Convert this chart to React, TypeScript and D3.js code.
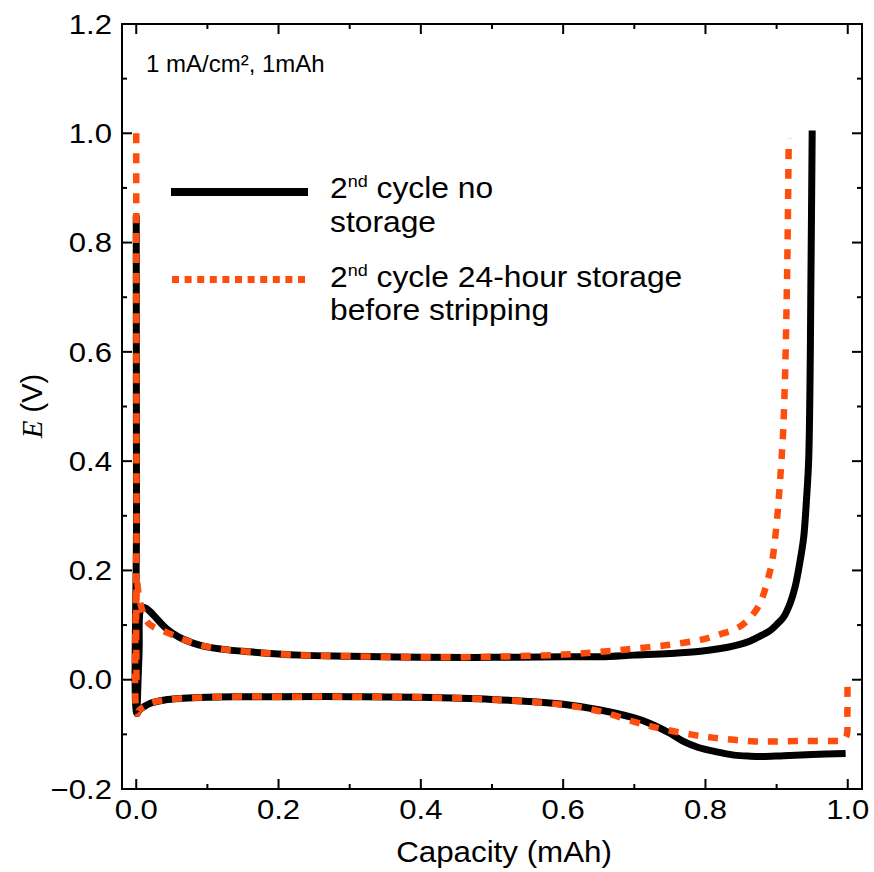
import React from "react";
import * as d3 from "d3";

// Capacity (mAh) and potential E (V) for each branch
const noStorageDepCap = [0, 0.0004, 0.0012, 0.004, 0.01, 0.02, 0.04, 0.066, 0.1, 0.136, 0.2, 0.3, 0.4, 0.5, 0.6, 0.652, 0.7, 0.722, 0.75, 0.769, 0.79, 0.816, 0.84, 0.863, 0.88, 0.91, 0.95, 0.997];
const noStorageDepE = [0.85, 0.3, -0.062, -0.056, -0.05, -0.043, -0.037, -0.034, -0.032, -0.031, -0.031, -0.031, -0.032, -0.036, -0.045, -0.0555, -0.07, -0.08, -0.098, -0.113, -0.124, -0.132, -0.138, -0.14, -0.1405, -0.139, -0.137, -0.135];

const noStorageStripCap = [0.0012, 0.004, 0.007, 0.012, 0.02, 0.03, 0.042, 0.06, 0.089, 0.12, 0.159, 0.23, 0.3, 0.4, 0.5, 0.6, 0.652, 0.7, 0.75, 0.793, 0.821, 0.84, 0.863, 0.88, 0.891, 0.901, 0.91, 0.919, 0.926, 0.932, 0.938, 0.942, 0.945, 0.947, 0.948, 0.949, 0.95];
const noStorageStripE = [-0.055, 0.05, 0.13, 0.132, 0.124, 0.11, 0.094, 0.078, 0.0635, 0.056, 0.051, 0.045, 0.043, 0.041, 0.041, 0.042, 0.042, 0.045, 0.048, 0.052, 0.057, 0.062, 0.071, 0.082, 0.09, 0.102, 0.115, 0.14, 0.17, 0.21, 0.26, 0.33, 0.4, 0.55, 0.7, 0.85, 1.005];

const storageDepCap = [0, 0.0004, 0.0012, 0.004, 0.01, 0.02, 0.04, 0.066, 0.1, 0.136, 0.2, 0.3, 0.4, 0.5, 0.6, 0.652, 0.7, 0.722, 0.75, 0.783, 0.81, 0.84, 0.87, 0.9, 0.94, 0.98, 0.993, 0.998, 0.9995, 0.9995];
const storageDepE = [1.0, 0.3, -0.062, -0.056, -0.05, -0.043, -0.037, -0.034, -0.032, -0.031, -0.031, -0.031, -0.032, -0.036, -0.046, -0.058, -0.077, -0.085, -0.093, -0.101, -0.106, -0.11, -0.113, -0.113, -0.112, -0.112, -0.111, -0.104, -0.06, 0.0];

const storageStripCap = [0.0004, 0.001, 0.004, 0.009, 0.0145, 0.025, 0.042, 0.06, 0.089, 0.12, 0.159, 0.23, 0.3, 0.4, 0.5, 0.6, 0.652, 0.7, 0.75, 0.793, 0.82, 0.844, 0.858, 0.868, 0.876, 0.882, 0.888, 0.894, 0.901, 0.905, 0.909, 0.912, 0.915, 0.917];
const storageStripE = [0.0, 0.18, 0.15, 0.125, 0.107, 0.096, 0.087, 0.077, 0.0635, 0.056, 0.051, 0.045, 0.043, 0.041, 0.042, 0.046, 0.051, 0.057, 0.064, 0.073, 0.083, 0.094, 0.107, 0.1215, 0.138, 0.158, 0.185, 0.219, 0.3, 0.367, 0.45, 0.564, 0.762, 0.99];

const xMajorTicks = [0, 0.2, 0.4, 0.6, 0.8, 1.0];
const xMinorTicks = [0.1, 0.3, 0.5, 0.7, 0.9];
const yMajorTicks = [-0.2, 0, 0.2, 0.4, 0.6, 0.8, 1.0, 1.2];
const yMinorTicks = [-0.1, 0.1, 0.3, 0.5, 0.7, 0.9, 1.1];

const BLACK = "#000000";
const ORANGE = "#ff4d0d";
const SANS = "'Liberation Sans', Arial, Helvetica, sans-serif";
const SERIF = "'Liberation Serif', 'Times New Roman', serif";

const L = 122, R = 862, T = 24, B = 789;

const zip = (xs: number[], ys: number[]) => xs.map((x, i) => [x, ys[i]] as [number, number]);

export default function App() {
  const x = d3.scaleLinear().domain([-0.02, 1.02]).range([L, R]);
  const y = d3.scaleLinear().domain([-0.2, 1.2]).range([B, T]);
  const line = d3
    .line<[number, number]>()
    .x((d) => x(d[0]))
    .y((d) => y(d[1]))
    .curve(d3.curveCatmullRom.alpha(0.5));

  const fmt = (v: number) => (v < 0 ? "\u2212" : "") + Math.abs(v).toFixed(1);
  const major = 10, minor = 5;

  return (
    <div style={{ position: "absolute", left: 0, top: 0 }}>
      <svg width={874} height={872} style={{ display: "block", background: "#fff" }}>
        <defs>
          <clipPath id="plot">
            <rect x={L} y={T} width={R - L} height={B - T} />
          </clipPath>
        </defs>
        <g clipPath="url(#plot)" fill="none" strokeLinejoin="round">
          <path d={line(zip(noStorageDepCap, noStorageDepE)) || ""} stroke={BLACK} strokeWidth={7} />
          <path d={line(zip(noStorageStripCap, noStorageStripE)) || ""} stroke={BLACK} strokeWidth={7} />
          <path d={line(zip(storageDepCap, storageDepE)) || ""} stroke={ORANGE} strokeWidth={6.5} strokeDasharray="10 10" />
          <path d={line(zip(storageStripCap, storageStripE)) || ""} stroke={ORANGE} strokeWidth={6.5} strokeDasharray="10 10" />
        </g>

        {/* frame */}
        <rect x={L} y={T} width={R - L} height={B - T} fill="none" stroke="#000" strokeWidth={2} />

        {/* ticks */}
        <g stroke="#000" strokeWidth={2}>
          {xMajorTicks.map((t) => (
            <g key={"xM" + t}>
              <line x1={x(t)} x2={x(t)} y1={B} y2={B - major} />
              <line x1={x(t)} x2={x(t)} y1={T} y2={T + major} />
            </g>
          ))}
          {xMinorTicks.map((t) => (
            <g key={"xm" + t}>
              <line x1={x(t)} x2={x(t)} y1={B} y2={B - minor} />
              <line x1={x(t)} x2={x(t)} y1={T} y2={T + minor} />
            </g>
          ))}
          {yMajorTicks.map((t) => (
            <g key={"yM" + t}>
              <line x1={L} x2={L + major} y1={y(t)} y2={y(t)} />
              <line x1={R} x2={R - major} y1={y(t)} y2={y(t)} />
            </g>
          ))}
          {yMinorTicks.map((t) => (
            <g key={"ym" + t}>
              <line x1={L} x2={L + minor} y1={y(t)} y2={y(t)} />
              <line x1={R} x2={R - minor} y1={y(t)} y2={y(t)} />
            </g>
          ))}
        </g>

        {/* tick labels */}
        <g fontFamily={SANS} fontSize={27} fill="#000">
          {xMajorTicks.map((t) => (
            <text key={"xl" + t} transform={`translate(${x(t)},819) scale(1.15,1)`} textAnchor="middle">
              {fmt(t)}
            </text>
          ))}
          {yMajorTicks.map((t) => (
            <text key={"yl" + t} transform={`translate(112,${y(t) + 9.7}) scale(1.15,1)`} textAnchor="end">
              {fmt(t)}
            </text>
          ))}
        </g>

        {/* axis titles */}
        <text transform="translate(504,862) scale(1.08,1)" textAnchor="middle" fontFamily={SANS} fontSize={29}>
          Capacity (mAh)
        </text>
        <text transform="translate(42,406) rotate(-90)" textAnchor="middle" fontSize={29}>
          <tspan fontFamily={SERIF} fontStyle="italic">E</tspan>
          <tspan fontFamily={SANS}> (V)</tspan>
        </text>

        {/* annotation */}
        <text x={146} y={72} fontFamily={SANS} fontSize={24}>
          1 mA/cm², 1mAh
        </text>

        {/* legend */}
        <line x1={171} x2={308} y1={192} y2={192} stroke={BLACK} strokeWidth={8} />
        <line x1={172} x2={308} y1={279.5} y2={279.5} stroke={ORANGE} strokeWidth={7} strokeDasharray="7 5.6" />
        <g fontFamily={SANS} fontSize={30} fill="#000">
          <text transform="translate(330,198) scale(1.06,1)">
            2<tspan fontSize={17} dy={-11}>nd</tspan>
            <tspan dy={11}> cycle no</tspan>
          </text>
          <text transform="translate(330,232) scale(1.06,1)">storage</text>
          <text transform="translate(330,287) scale(1.06,1)">
            2<tspan fontSize={17} dy={-11}>nd</tspan>
            <tspan dy={11}> cycle 24-hour storage</tspan>
          </text>
          <text transform="translate(330,320) scale(1.06,1)">before stripping</text>
        </g>
      </svg>
    </div>
  );
}
